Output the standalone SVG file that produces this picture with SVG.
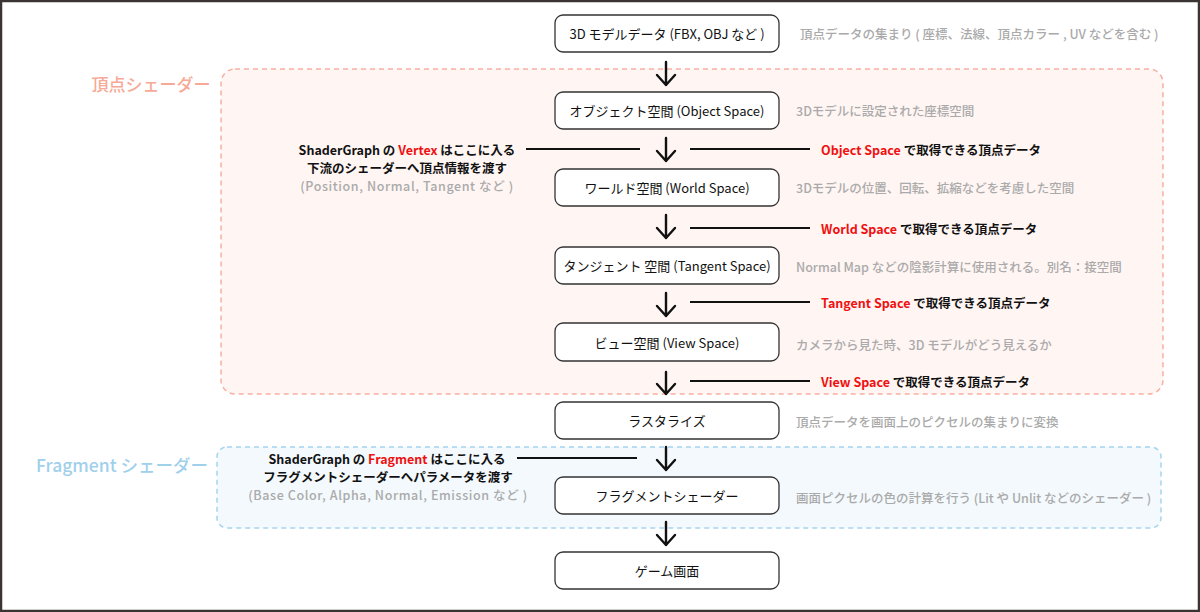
<svg xmlns="http://www.w3.org/2000/svg" width="1200" height="612" viewBox="0 0 1200 612">
<defs>
<style>
text{font-family:"Noto Sans CJK JP","Noto Sans",sans-serif;dominant-baseline:central}
.box{fill:#fff;stroke:#333;stroke-width:1.3}
.bl{font-size:13px;fill:#111;text-anchor:middle}
.desc{font-size:12.5px;fill:#aaa;font-weight:500}
.ann{font-size:12.5px;fill:#111;font-weight:700}
.sub{font-size:12.5px;fill:#aaa;font-weight:500;letter-spacing:0.6px}
.red{fill:#f01010}
.arr{stroke:#111;stroke-width:2.4;fill:none;stroke-linecap:round;stroke-linejoin:round}
.hl{stroke:#111;stroke-width:2.2}
</style>
</defs>
<rect x="1" y="1" width="1198" height="610" fill="#fff" stroke="#3a3532" stroke-width="2.5"/>
<g id="vertex-region">
<rect x="221" y="69" width="942" height="325" rx="14" fill="#fff5f3" stroke="#f8b0a2" stroke-width="1.5" stroke-dasharray="5 4"/>
<text x="151" y="83" style="font-size:17px;fill:#f7a896;font-weight:500;text-anchor:middle">頂点シェーダー</text>
</g>
<g id="fragment-region">
<rect x="217" y="447" width="944" height="81" rx="10" fill="#f3f9fc" stroke="#a6d4ee" stroke-width="1.5" stroke-dasharray="5 4"/>
<text x="122" y="464" style="font-size:17.5px;fill:#9fd0ec;font-weight:500;text-anchor:middle">Fragment シェーダー</text>
</g>
<g id="connectors">
<path class="arr" d="M666,62V85M657,75L666,85L675,75"/>
<path class="arr" d="M666,138V161M657,151L666,161L675,151"/>
<path class="arr" d="M666,215V238M657,228L666,238L675,228"/>
<path class="arr" d="M666,293V316M657,306L666,316L675,306"/>
<path class="arr" d="M666,372V394M657,384L666,394L675,384"/>
<path class="arr" d="M666,447V470M657,460L666,470L675,460"/>
<path class="arr" d="M666,522V545M657,535L666,545L675,535"/>
<line class="hl" x1="526" y1="149" x2="640" y2="149"/>
<line class="hl" x1="690" y1="149" x2="810" y2="149"/>
<line class="hl" x1="690" y1="228" x2="810" y2="228"/>
<line class="hl" x1="690" y1="302" x2="810" y2="302"/>
<line class="hl" x1="690" y1="381" x2="810" y2="381"/>
<line class="hl" x1="517" y1="458" x2="637" y2="458"/>
</g>
<g id="n1"><rect class="box" x="555" y="15" width="224" height="37" rx="8"/><text class="bl" x="667" y="33.5">3D モデルデータ (FBX, OBJ など )</text><text class="desc" x="800" y="33">頂点データの集まり ( 座標、法線、頂点カラー , UV などを含む )</text></g>
<g id="n2"><rect class="box" x="555" y="92" width="224" height="37" rx="8"/><text class="bl" x="667" y="110.5">オブジェクト空間 (Object Space)</text><text class="desc" x="796" y="110">3Dモデルに設定された座標空間</text></g>
<g id="n3"><rect class="box" x="555" y="169" width="224" height="37" rx="8"/><text class="bl" x="667" y="187.5">ワールド空間 (World Space)</text><text class="desc" x="796" y="187">3Dモデルの位置、回転、拡縮などを考慮した空間</text></g>
<g id="n4"><rect class="box" x="555" y="247" width="224" height="37" rx="8"/><text class="bl" x="667" y="265.5">タンジェント 空間 (Tangent Space)</text><text class="desc" x="796" y="266">Normal Map などの陰影計算に使用される。別名：接空間</text></g>
<g id="n5"><rect class="box" x="555" y="323" width="224" height="38" rx="8"/><text class="bl" x="667" y="342">ビュー空間 (View Space)</text><text class="desc" x="796" y="344">カメラから見た時、3D モデルがどう見えるか</text></g>
<g id="n6"><rect class="box" x="555" y="402" width="224" height="37" rx="8"/><text class="bl" x="667" y="420.5">ラスタライズ</text><text class="desc" x="796" y="421">頂点データを画面上のピクセルの集まりに変換</text></g>
<g id="n7"><rect class="box" x="555" y="477" width="224" height="37" rx="8"/><text class="bl" x="667" y="495.5">フラグメントシェーダー</text><text class="desc" x="796" y="497">画面ピクセルの色の計算を行う (Lit や Unlit などのシェーダー )</text></g>
<g id="n8"><rect class="box" x="555" y="552" width="224" height="37" rx="8"/><text class="bl" x="667" y="570.5">ゲーム画面</text></g>
<g id="vertex-note">
<text class="ann" x="407" y="149" text-anchor="middle">ShaderGraph の <tspan class="red">Vertex</tspan> はここに入る</text>
<text class="ann" x="407" y="167" text-anchor="middle">下流のシェーダーへ頂点情報を渡す</text>
<text class="sub" x="407" y="185.5" text-anchor="middle">(Position, Normal, Tangent など )</text>
</g>
<g id="fragment-note">
<text class="ann" x="387" y="458" text-anchor="middle">ShaderGraph の <tspan class="red">Fragment</tspan> はここに入る</text>
<text class="ann" x="388" y="476" text-anchor="middle">フラグメントシェーダーへパラメータを渡す</text>
<text class="sub" x="388" y="494.5" text-anchor="middle">(Base Color, Alpha, Normal, Emission など )</text>
</g>
<g id="space-notes">
<text class="ann" x="821" y="149"><tspan class="red">Object Space</tspan> で取得できる頂点データ</text>
<text class="ann" x="821" y="228"><tspan class="red">World Space</tspan> で取得できる頂点データ</text>
<text class="ann" x="821" y="302"><tspan class="red">Tangent Space</tspan> で取得できる頂点データ</text>
<text class="ann" x="821" y="381"><tspan class="red">View Space</tspan> で取得できる頂点データ</text>
</g>
</svg>
